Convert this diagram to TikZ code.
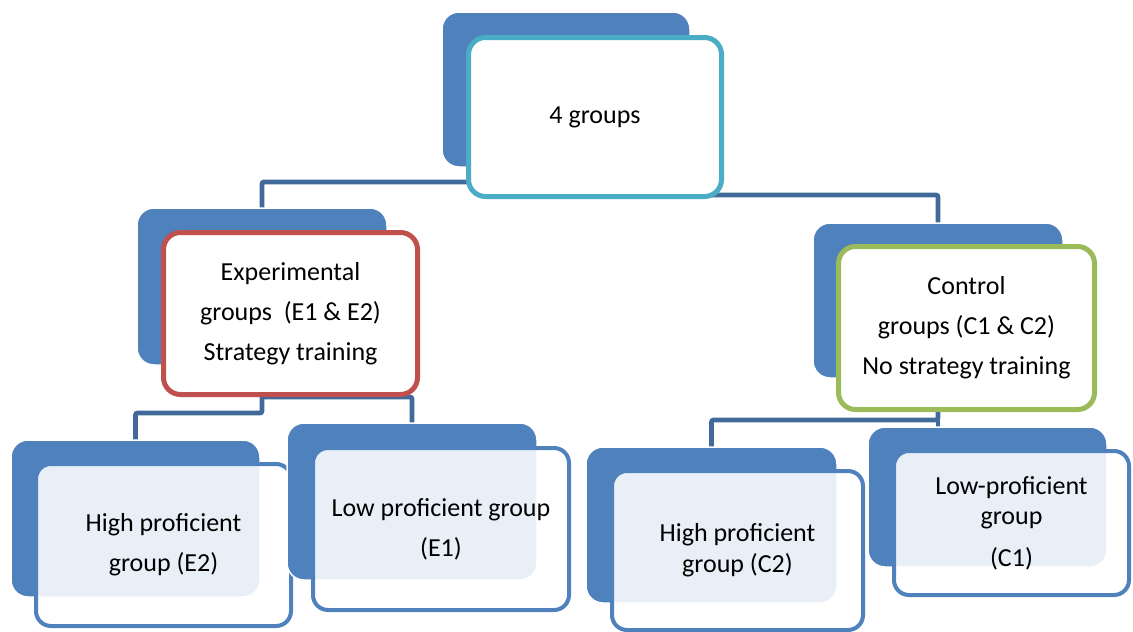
\documentclass[tikz,border=0pt]{standalone}
\usepackage{fontspec}
\setmainfont{Carlito}
\definecolor{backblue}{HTML}{4F81BD}
\definecolor{connblue}{HTML}{41699A}
\definecolor{tealb}{HTML}{4BACC6}
\definecolor{redb}{HTML}{C0504D}
\definecolor{greenb}{HTML}{9BBB59}
\tikzset{
  backbox/.style={rectangle, rounded corners=17pt, fill=backblue, draw=white, line width=1.5pt, inner sep=0pt},
  topfront/.style={rectangle, rounded corners=17pt, fill=white, line width=5pt, inner sep=0pt, align=center, font=\fontsize{26}{40}\selectfont},
  lowfront/.style={rectangle, rounded corners=15pt, draw=backblue, line width=4pt, fill=white, fill opacity=0.88, text opacity=1, inner sep=0pt, align=center, font=\fontsize{26}{40}\selectfont},
  conn/.style={draw=connblue, line width=4.7pt, rounded corners=2pt}
}
\begin{document}
\begin{tikzpicture}[x=1pt,y=-1pt]
\useasboundingbox[fill=white] (0,0) rectangle (1133,632);
% back boxes positions (nodes drawn later); define coordinates first via nodes in order
% --- connectors are drawn on a background pass using named nodes, so nodes first in a scope with no drawing
\path
  (566,89.5) node[minimum width=248pt, minimum height=155pt, inner sep=0pt] (topB) {}
  (262,286.5) node[minimum width=250pt, minimum height=157pt, inner sep=0pt] (expB) {}
  (938,300.5) node[minimum width=250pt, minimum height=155pt, inner sep=0pt] (ctrlB) {}
  (135.5,518.5) node[minimum width=249pt, minimum height=157pt, inner sep=0pt] (e2B) {}
  (412,501.5) node[minimum width=250pt, minimum height=157pt, inner sep=0pt] (e1B) {}
  (711.5,525) node[minimum width=251pt, minimum height=156pt, inner sep=0pt] (c2B) {}
  (987.5,497) node[minimum width=239pt, minimum height=140pt, inner sep=0pt] (c1B) {};
\coordinate (topC) at (595,117);
\coordinate (j1) at (595,182);
\coordinate (j2) at (595,195);
\coordinate (j3) at (262,413);
\coordinate (j4) at (262,397);
\coordinate (j5) at (938,420);
% connectors
\draw[conn] (topC) -- (j1) -| (expB.north);
\draw[conn] (topC) -- (j2) -| (ctrlB.north);
\draw[conn] (expB.center) -- (j3) -| (e2B.north);
\draw[conn] (expB.center) -- (j4) -| (e1B.north);
\draw[conn] (ctrlB.center) -- (j5) -| (c2B.north);
\draw[conn] (ctrlB.center) -- (ctrlB.center |- c1B.north);
% top level
\node[backbox, minimum width=248pt, minimum height=155pt] (topBb) at (topB) {};
\node[topfront, draw=tealb, minimum width=253pt, minimum height=159pt] (topF) at (topC) {4 groups};
\node[backbox, minimum width=250pt, minimum height=157pt] (expBb) at (expB) {};
\node[topfront, draw=redb, minimum width=254pt, minimum height=162pt] (expF) at (290.5,313.5) {Experimental\\groups~ (E1 \& E2)\\Strategy training};
\node[backbox, minimum width=250pt, minimum height=155pt] (ctrlBb) at (ctrlB) {};
\node[topfront, draw=greenb, minimum width=256pt, minimum height=163pt] (ctrlF) at (966.5,328) {Control\\groups (C1 \& C2)\\No strategy training};
% bottom level
\node[backbox, minimum width=249pt, minimum height=157pt] (e2Bb) at (e2B) {};
\node[lowfront, minimum width=255pt, minimum height=162pt] (e2F) at (163.5,545) {High proficient\\group (E2)};
\node[backbox, minimum width=250pt, minimum height=157pt] (e1Bb) at (e1B) {};
\node[lowfront, minimum width=256pt, minimum height=162pt] (e1F) at (441,529) {Low proficient group\\(E1)};
\node[backbox, minimum width=251pt, minimum height=156pt] (c2Bb) at (c2B) {};
\node[lowfront, minimum width=251pt, minimum height=159pt, font=\fontsize{26}{31}\selectfont] (c2F) at (737.5,550.5) {High proficient\\group (C2)};
\node[backbox, minimum width=239pt, minimum height=140pt] (c1Bb) at (c1B) {};
\node[lowfront, minimum width=235pt, minimum height=144pt, font=\fontsize{26}{30}\selectfont] (c1F) at (1011.5,523) {Low-proficient\\group\\[12pt](C1)};
\end{tikzpicture}
\end{document}
